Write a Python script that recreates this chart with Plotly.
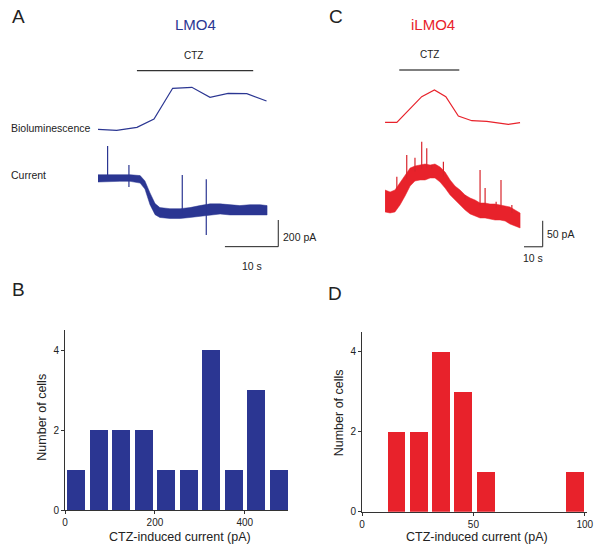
import plotly.graph_objects as go

W, H = 604, 554
BLUE = "#2b3692"
RED = "#e8222b"
INK = "#222222"
FONT = "Arial, Liberation Sans, sans-serif"

# ---------------- Panel A (LMO4) ----------------
a_lum_t = [0, 3.5, 7.3, 10.5, 14.0, 17.6, 21.0, 24.4, 27.9, 31.6]
a_lum_v = [5.7, 4.7, 7.7, 16.0, 46.7, 47.7, 37.7, 41.7, 41.3, 34.0]

a_cur_t = [0, 4.1, 6.0, 7.9, 8.8, 9.75, 10.7, 11.6, 13.5, 15.4, 17.25, 19.1,
           21.0, 22.9, 24.75, 26.6, 28.5, 30.4, 31.7]
a_cur_hi = [25, 25, 25, 18, -22, -112, -192, -222, -230, -230, -222,
            -207, -194, -194, -200, -207, -200, -200, -207]
a_cur_lo = [-30, -25, -25, -38, -83, -200, -275, -296, -304, -304, -296,
            -285, -277, -270, -277, -277, -277, -277, -277]

a_spike_t = [1.8, 5.8, 15.8, 20.3]
a_spike_lo = [0, -67.5, -270, -427.5]
a_spike_hi = [240, 97.5, 22.5, -10]

a_ctz = [7.3, 29.1]
a_scale_t = [23.8, 33.8]      # 10 s
a_scale_pa = [-515, -315]     # 200 pA

# ---------------- Panel C (iLMO4) ----------------
c_lum_t = [0, 6.3, 19.6, 26.4, 32.5, 39.2, 46.4, 54.4, 65.9, 72.2]
c_lum_v = [12.7, 12.7, 38.3, 45.0, 38.3, 19.0, 14.3, 13.7, 10.7, 12.3]

c_cur_t = [0, 2.7, 5.3, 8.0, 10.7, 13.4, 16.0, 18.7, 21.4, 24.1, 26.7, 29.4,
           32.1, 34.8, 37.4, 40.1, 42.8, 45.5, 48.1, 50.8, 53.5, 56.1, 58.8,
           61.5, 64.2, 66.8, 69.5, 72.2]
c_cur_hi = [19.2, 15.4, 19.2, 32.7, 46.2, 61.5, 65.4, 67.3, 69.2, 67.3, 69.2,
            63.5, 53.8, 38.5, 26.9, 19.2, 9.6, 3.8, 0, -5.8, -5.8, -7.7, -7.7,
            -9.6, -11.5, -13.5, -19.2, -25.0]
c_cur_lo = [-23.0, -25.0, -23.0, -9.6, 7.7, 26.9, 36.5, 38.5, 38.5, 42.3, 42.3,
            34.6, 23.0, 9.6, 0, -9.6, -19.2, -26.9, -30.8, -34.6, -34.6, -36.5,
            -38.5, -38.5, -40.4, -46.2, -50.0, -53.8]

c_spike_t = [6.3, 11.6, 16.0, 19.6, 22.3, 25.0, 31.2, 42.8, 50.8, 53.5, 59.4, 62.0, 67.8]
c_spike_lo = [20.0, 40.0, 55.0, 60.0, 62.0, 60.0, 45.0, 0.0, -10.0, -10.0, -15.0, -15.0, -25.0]
c_spike_hi = [44.8, 86.5, 81.3, 112.0, 99.4, 67.3, 73.6, 9.6, 57.7, 23.0, -3.3, 38.5, -9.6]

c_ctz = [7.6, 39.7]
c_scale_t = [74.3, 84.3]      # 10 s
c_scale_pa = [-90, -40]       # 50 pA

# ---------------- Panel B / D histograms ----------------
b_centers = [25, 75, 125, 175, 225, 275, 325, 375, 425, 475]
b_counts = [1, 2, 2, 2, 1, 1, 4, 1, 3, 1]
b_xticks = [0, 200, 400]

d_centers = [15.5, 25.5, 35.5, 45.5, 55.5, 95.5]
d_counts = [2, 2, 4, 3, 1, 1]
d_xticks = [0, 50, 100]

y_ticks = [0, 2, 4]


def px_x(p):
    return p / W


def px_y(p):
    return 1 - p / H


def dom_x(a, b):
    return [px_x(a), px_x(b)]


def dom_y(top, bottom):
    return [px_y(bottom), px_y(top)]


fig = go.Figure()

# Panel A traces
fig.add_trace(go.Scatter(x=a_lum_t, y=a_lum_v, mode="lines", line=dict(color=BLUE, width=1.2),
                         xaxis="x", yaxis="y2", hoverinfo="skip"))
fig.add_trace(go.Scatter(x=a_cur_t + a_cur_t[::-1], y=a_cur_hi + a_cur_lo[::-1], mode="lines",
                         fill="toself", fillcolor=BLUE, line=dict(color=BLUE, width=0.5),
                         xaxis="x", yaxis="y", hoverinfo="skip"))
sx, sy = [], []
for t, lo, hi in zip(a_spike_t, a_spike_lo, a_spike_hi):
    sx += [t, t, None]
    sy += [lo, hi, None]
fig.add_trace(go.Scatter(x=sx, y=sy, mode="lines", line=dict(color=BLUE, width=1.2),
                         xaxis="x", yaxis="y", hoverinfo="skip"))
fig.add_trace(go.Scatter(x=[a_scale_t[0], a_scale_t[1], a_scale_t[1]],
                         y=[a_scale_pa[0], a_scale_pa[0], a_scale_pa[1]], mode="lines",
                         line=dict(color=INK, width=1), xaxis="x", yaxis="y", hoverinfo="skip"))

# Panel C traces
fig.add_trace(go.Scatter(x=c_lum_t, y=c_lum_v, mode="lines", line=dict(color=RED, width=1.2),
                         xaxis="x2", yaxis="y4", hoverinfo="skip"))
fig.add_trace(go.Scatter(x=c_cur_t + c_cur_t[::-1], y=c_cur_hi + c_cur_lo[::-1], mode="lines",
                         fill="toself", fillcolor=RED, line=dict(color=RED, width=0.5),
                         xaxis="x2", yaxis="y3", hoverinfo="skip"))
sx, sy = [], []
for t, lo, hi in zip(c_spike_t, c_spike_lo, c_spike_hi):
    sx += [t, t, None]
    sy += [lo, hi, None]
fig.add_trace(go.Scatter(x=sx, y=sy, mode="lines", line=dict(color="#d8252c", width=1.2),
                         xaxis="x2", yaxis="y3", hoverinfo="skip"))
fig.add_trace(go.Scatter(x=[c_scale_t[0], c_scale_t[1], c_scale_t[1]],
                         y=[c_scale_pa[0], c_scale_pa[0], c_scale_pa[1]], mode="lines",
                         line=dict(color=INK, width=1), xaxis="x2", yaxis="y3", hoverinfo="skip"))

# Histograms
fig.add_trace(go.Bar(x=b_centers, y=b_counts, width=40, marker=dict(color=BLUE, line=dict(width=0)),
                     xaxis="x3", yaxis="y5", hoverinfo="skip"))
fig.add_trace(go.Bar(x=d_centers, y=d_counts, width=8, marker=dict(color=RED, line=dict(width=0)),
                     xaxis="x4", yaxis="y6", hoverinfo="skip"))

hidden = dict(visible=False, showgrid=False, zeroline=False, fixedrange=True)
hist_ax = dict(showline=True, linecolor="#333333", linewidth=1, ticks="outside", ticklen=3,
               tickcolor="#333333", tickfont=dict(size=10, color=INK, family=FONT),
               showgrid=False, zeroline=False, automargin=False)

fig.update_layout(
    width=W, height=H, margin=dict(l=0, r=0, t=0, b=0),
    template="none", paper_bgcolor="white", plot_bgcolor="rgba(0,0,0,0)",
    showlegend=False, font=dict(family=FONT, color=INK),
    xaxis=dict(domain=dom_x(90, 290), range=[-1.5, 36.0], anchor="y", **hidden),
    yaxis=dict(domain=dom_y(135, 255), range=[-577.5, 322.5], anchor="x", **hidden),
    yaxis2=dict(domain=dom_y(80, 135), range=[0, 55], anchor="x", **hidden),
    xaxis2=dict(domain=dom_x(380, 550), range=[-2.7, 88.2], anchor="y3", **hidden),
    yaxis3=dict(domain=dom_y(135, 255), range=[-105.8, 125.0], anchor="x2", **hidden),
    yaxis4=dict(domain=dom_y(80, 135), range=[0, 55], anchor="x2", **hidden),
    xaxis3=dict(domain=dom_x(65, 288), range=[0, 496], anchor="y5", tickvals=b_xticks, **hist_ax),
    yaxis5=dict(domain=dom_y(330, 510), range=[0, 4.5], anchor="x3", tickvals=y_ticks, **hist_ax),
    xaxis4=dict(domain=dom_x(362, 587), range=[0, 101], anchor="y6", tickvals=d_xticks, **hist_ax),
    yaxis6=dict(domain=dom_y(331.7, 511.7), range=[0, 4.5], anchor="x4", tickvals=y_ticks, **hist_ax),
    bargap=0,
)

# CTZ bars
fig.add_shape(type="line", xref="x", yref="paper", x0=a_ctz[0], x1=a_ctz[1],
              y0=px_y(70.7), y1=px_y(70.7), line=dict(color="#333333", width=1.3))
fig.add_shape(type="line", xref="x2", yref="paper", x0=c_ctz[0], x1=c_ctz[1],
              y0=px_y(70), y1=px_y(70), line=dict(color="#555555", width=1.3))


def txt(s, x, y, size, color=INK, xanchor="center", angle=0):
    fig.add_annotation(text=s, x=px_x(x), y=px_y(y), xref="paper", yref="paper",
                       xanchor=xanchor, yanchor="middle", showarrow=False, textangle=angle,
                       font=dict(size=size, color=color, family=FONT))


txt("A", 18, 17, 19)
txt("LMO4", 195, 25, 15, BLUE)
txt("CTZ", 193, 56, 10)
txt("Bioluminescence", 9, 127.7, 10.5, xanchor="left")
txt("Current", 9, 175, 10.5, xanchor="left")
txt("200 pA", 281, 237.3, 10.5, xanchor="left")
txt("10 s", 251.7, 265.7, 10.5)

txt("C", 336, 17, 19)
txt("iLMO4", 433.3, 25, 15, RED)
txt("CTZ", 429.3, 55, 10)
txt("50 pA", 544.5, 234.3, 10.5, xanchor="left")
txt("10 s", 532.7, 257.7, 10.5)

txt("B", 18, 289, 19)
txt("D", 335, 293, 19)
txt("CTZ-induced current (pA)", 180, 537, 12.5)
txt("CTZ-induced current (pA)", 476.7, 537, 12.5)
txt("Number of cells", 41.7, 417, 12.5, angle=-90)
txt("Number of cells", 339.3, 413, 12.5, angle=-90)

fig.write_html("out.html", config={"displayModeBar": False, "staticPlot": True},
               post_script="document.body.style.margin='0px';document.body.style.overflow='hidden';")
